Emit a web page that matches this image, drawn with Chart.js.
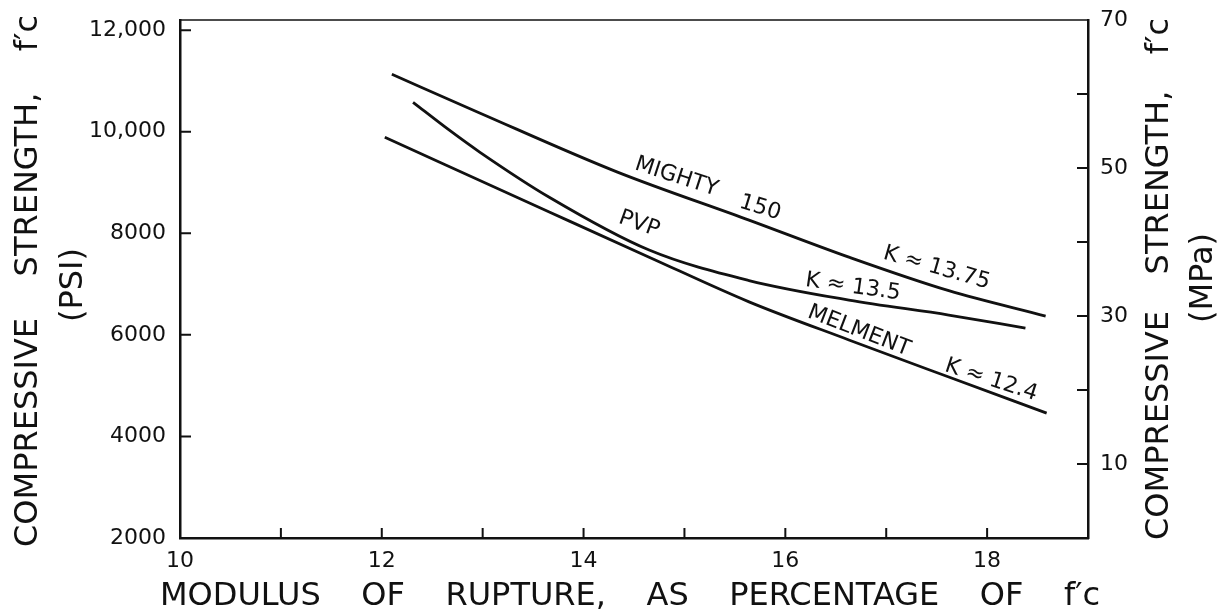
<!DOCTYPE html>
<html>
<head>
<meta charset="utf-8">
<script src="https://cdn.jsdelivr.net/npm/chart.js@4.4.1/dist/chart.umd.min.js"></script>
<style>
  html, body { margin: 0; padding: 0; background: #fff; }
</style>
</head>
<body>
<canvas id="rupture" width="1222" height="616"></canvas>
<script>
// modulus of rupture (% of f'c) vs compressive strength (psi)
const mightyX = [12.10, 12.97, 14.33, 15.64, 16.63, 17.62, 18.58];
const mightyY = [11130, 10370, 9210, 8260, 7530, 6870, 6370];
const pvpX = [12.31, 12.67, 12.97, 13.66, 14.65, 15.64, 16.63, 17.62, 18.38];
const pvpY = [10580, 10030, 9600, 8710, 7670, 7070, 6685, 6390, 6135];
const melmentX = [12.03, 13.66, 14.65, 15.64, 16.63, 17.62, 18.59];
const melmentY = [9890, 8420, 7530, 6650, 5900, 5170, 4460];

const psiTicks = [2000, 4000, 6000, 8000, 10000, 12000];
const mpaTicks = [10, 20, 30, 40, 50, 60, 70];
const mpaLabels = [10, 30, 50, 70];
const modulusTicks = [10, 11, 12, 13, 14, 15, 16, 17, 18, 19];
const modulusLabels = [10, 12, 14, 16, 18];

// text written along the curves
const curveNotes = [
  { text: 'MIGHTY', x: 14.92, y: 9110, angle: 18 },
  { text: '150', x: 15.75, y: 8500, angle: 17 },
  { text: 'K ≈ 13.75', x: 17.50, y: 7315, angle: 16 },
  { text: 'PVP', x: 14.55, y: 8180, angle: 20 },
  { text: 'K ≈ 13.5', x: 16.67, y: 6940, angle: 8 },
  { text: 'MELMENT', x: 16.73, y: 6075, angle: 21 },
  { text: 'K ≈ 12.4', x: 18.04, y: 5110, angle: 18 }
];

const INK = '#111';

function points(xs, ys) {
  return xs.map((x, i) => ({ x: x, y: ys[i] }));
}

function curve(label, xs, ys) {
  return {
    label: label,
    data: points(xs, ys),
    showLine: true,
    borderColor: INK,
    borderWidth: 2.8,
    pointRadius: 0,
    tension: 0.4,
    cubicInterpolationMode: 'monotone'
  };
}

// lay words out evenly between two positions along the current x direction
function spreadWords(ctx, words, from, to) {
  const widths = words.map(w => ctx.measureText(w).width);
  const total = widths.reduce((a, b) => a + b, 0);
  const gap = (to - from - total) / (words.length - 1);
  let pos = from;
  words.forEach((w, i) => {
    ctx.fillText(w, pos, 0);
    pos += widths[i] + gap;
  });
}

const framePlugin = {
  id: 'frame',
  afterDraw(chart) {
    const { ctx, chartArea: a, scales } = chart;
    ctx.save();
    ctx.strokeStyle = INK;
    ctx.fillStyle = INK;

    // thin top edge
    ctx.lineWidth = 1.5;
    ctx.beginPath();
    ctx.moveTo(a.left, a.top);
    ctx.lineTo(a.right, a.top);
    ctx.stroke();

    // inward tick marks
    ctx.lineWidth = 2;
    ctx.beginPath();
    modulusTicks.forEach(v => {
      const px = scales.x.getPixelForValue(v);
      if (px <= a.left + 2 || px >= a.right - 2) return;
      ctx.moveTo(px, a.bottom);
      ctx.lineTo(px, a.bottom - 10);
    });
    psiTicks.forEach(v => {
      const py = scales.y.getPixelForValue(v);
      if (py >= a.bottom - 2) return;
      ctx.moveTo(a.left, py);
      ctx.lineTo(a.left + 11, py);
    });
    mpaTicks.forEach(v => {
      const py = scales.mpa.getPixelForValue(v);
      if (py <= a.top + 2) return;
      ctx.moveTo(a.right, py);
      ctx.lineTo(a.right - 11, py);
    });
    ctx.stroke();

    // notes along the curves
    ctx.font = '22px "DejaVu Sans"';
    ctx.textAlign = 'center';
    ctx.textBaseline = 'middle';
    curveNotes.forEach(n => {
      ctx.save();
      ctx.translate(scales.x.getPixelForValue(n.x), scales.y.getPixelForValue(n.y));
      ctx.rotate(n.angle * Math.PI / 180);
      ctx.fillText(n.text, 0, 0);
      ctx.restore();
    });

    // axis titles
    ctx.font = '32px "DejaVu Sans"';
    ctx.textAlign = 'left';
    const sideWords = ['COMPRESSIVE', 'STRENGTH,', 'f′c'];

    ctx.save();
    ctx.translate(29, 547);
    ctx.rotate(-Math.PI / 2);
    spreadWords(ctx, sideWords, 0, 532);
    ctx.restore();

    ctx.save();
    ctx.translate(1160, 540);
    ctx.rotate(-Math.PI / 2);
    spreadWords(ctx, sideWords, 0, 522);
    ctx.restore();

    ctx.textAlign = 'center';
    ctx.save();
    ctx.translate(74, 285);
    ctx.rotate(-Math.PI / 2);
    ctx.fillText('(PSI)', 0, 0);
    ctx.restore();

    ctx.save();
    ctx.translate(1204, 278);
    ctx.rotate(-Math.PI / 2);
    ctx.fillText('(MPa)', 0, 0);
    ctx.restore();

    ctx.textAlign = 'left';
    ctx.save();
    ctx.translate(0, 597);
    spreadWords(ctx, ['MODULUS', 'OF', 'RUPTURE,', 'AS', 'PERCENTAGE', 'OF', 'f′c'], 160, 1100);
    ctx.restore();

    ctx.restore();
  }
};

const tickFont = { family: 'DejaVu Sans', size: 22 };
const edge = { display: true, color: INK, width: 2.5 };
const hiddenGrid = { display: true, drawOnChartArea: false, drawTicks: false };

new Chart(document.getElementById('rupture').getContext('2d'), {
  type: 'scatter',
  data: {
    datasets: [
      curve('Mighty 150', mightyX, mightyY),
      curve('PVP', pvpX, pvpY),
      curve('Melment', melmentX, melmentY)
    ]
  },
  options: {
    responsive: false,
    animation: false,
    devicePixelRatio: 1,
    layout: { padding: { top: 20 } },
    plugins: {
      legend: { display: false },
      tooltip: { enabled: false }
    },
    scales: {
      x: {
        type: 'linear',
        position: 'bottom',
        min: 10,
        max: 19,
        afterFit(s) { s.height = 78; },
        afterBuildTicks(s) { s.ticks = modulusTicks.map(v => ({ value: v })); },
        ticks: {
          autoSkip: false,
          maxRotation: 0,
          padding: 10,
          color: INK,
          font: tickFont,
          callback: v => modulusLabels.includes(v) ? String(v) : ''
        },
        grid: hiddenGrid,
        border: edge
      },
      y: {
        type: 'linear',
        position: 'left',
        min: 2000,
        max: 12200,
        afterFit(s) { s.width = 180; s.paddingTop = 0; s.paddingBottom = 0; },
        afterBuildTicks(s) { s.ticks = psiTicks.map(v => ({ value: v })); },
        ticks: {
          padding: 14,
          color: INK,
          font: tickFont,
          callback: v => v >= 10000 ? v.toLocaleString('en-US') : String(v)
        },
        grid: hiddenGrid,
        border: edge
      },
      mpa: {
        type: 'linear',
        position: 'right',
        min: 0,
        max: 70,
        afterFit(s) { s.width = 134; s.paddingTop = 0; s.paddingBottom = 0; },
        afterBuildTicks(s) { s.ticks = mpaTicks.map(v => ({ value: v })); },
        ticks: {
          padding: 12,
          color: INK,
          font: tickFont,
          callback: v => mpaLabels.includes(v) ? String(v) : ''
        },
        grid: hiddenGrid,
        border: edge
      }
    }
  },
  plugins: [framePlugin]
});
</script>
</body>
</html>
